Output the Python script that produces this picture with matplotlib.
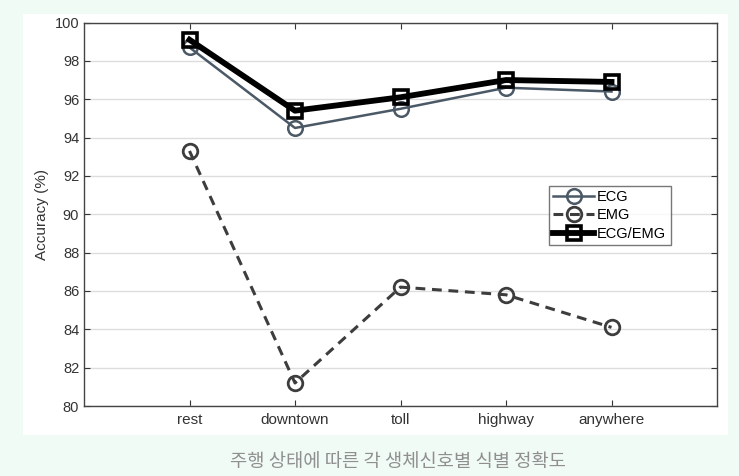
import numpy as np
import matplotlib.pyplot as plt
from matplotlib.patches import Rectangle

# driving conditions and accuracy per signal type
conditions = ["rest", "downtown", "toll", "highway", "anywhere"]
ecg = [98.7, 94.5, 95.5, 96.6, 96.4]
emg = [93.3, 81.2, 86.2, 85.8, 84.1]
ecg_emg = [99.1, 95.4, 96.1, 97.0, 96.9]
y_ticks = list(range(80, 101, 2))

plt.rcParams['font.family'] = ['Liberation Sans', 'DejaVu Sans']

fig = plt.figure(figsize=(7.39, 4.76), dpi=100)
fig.patch.set_facecolor("#f1fbf5")
# white panel behind the plot
fig.patches.append(Rectangle((23 / 739, 1 - 435 / 476), 705 / 739, 421 / 476,
                             transform=fig.transFigure, facecolor="white",
                             edgecolor="none", zorder=-1))

ax = fig.add_axes([84 / 739, 1 - 406 / 476, 633 / 739, 383.5 / 476])
ax.set_zorder(1)
ax.set_facecolor("white")

x = np.arange(1, len(conditions) + 1)
ax.plot(x, ecg, color="#4b5966", lw=1.8, marker="o", ms=10.5, mfc="none",
        mew=1.8, label="ECG", zorder=3)
ax.plot(x, emg, color="#3d3d3d", lw=2.2, ls=(0, (3.2, 2.2)), marker="o", ms=10.5,
        mfc="none", mew=2.0, label="EMG", zorder=3)
ax.plot(x, ecg_emg, color="black", lw=4.2, marker="s", ms=10, mfc="none",
        mew=2.6, label="ECG/EMG", zorder=4)

ax.set_xlim(0, 6)
ax.set_ylim(80, 100)
ax.set_xticks(x)
ax.set_xticklabels(conditions)
ax.set_yticks(y_ticks)
ax.tick_params(direction="in", top=True, right=True, labelsize=10.5,
               length=4, color="#333333", labelcolor="#333333")
ax.tick_params(axis="x", labelsize=11, pad=5)
ax.yaxis.grid(True, color="#dddddd", lw=1)
ax.set_axisbelow(True)
for s in ax.spines.values():
    s.set_color("#444444")
    s.set_linewidth(1)
ax.set_ylabel("Accuracy (%)", fontsize=11, color="#333333")

leg = ax.legend(loc="upper left", bbox_to_anchor=(465 / 633, 1 - 163 / 383.5),
                fontsize=10.5, frameon=True, fancybox=False, handlelength=2.8,
                handletextpad=0.2, borderpad=0.3, labelspacing=0.3,
                borderaxespad=0)
leg.get_frame().set_edgecolor("#555555")
leg.get_frame().set_linewidth(1)

fig.text(398 / 739, 1 - 462 / 476, "주행 상태에 따른 각 생체신호별 식별 정확도",
         ha="center", va="center", fontsize=13.5, color="#8f8f8f",
         family=["Noto Sans CJK KR", "DejaVu Sans"])

fig.savefig("out.png", dpi=100, facecolor=fig.get_facecolor())
